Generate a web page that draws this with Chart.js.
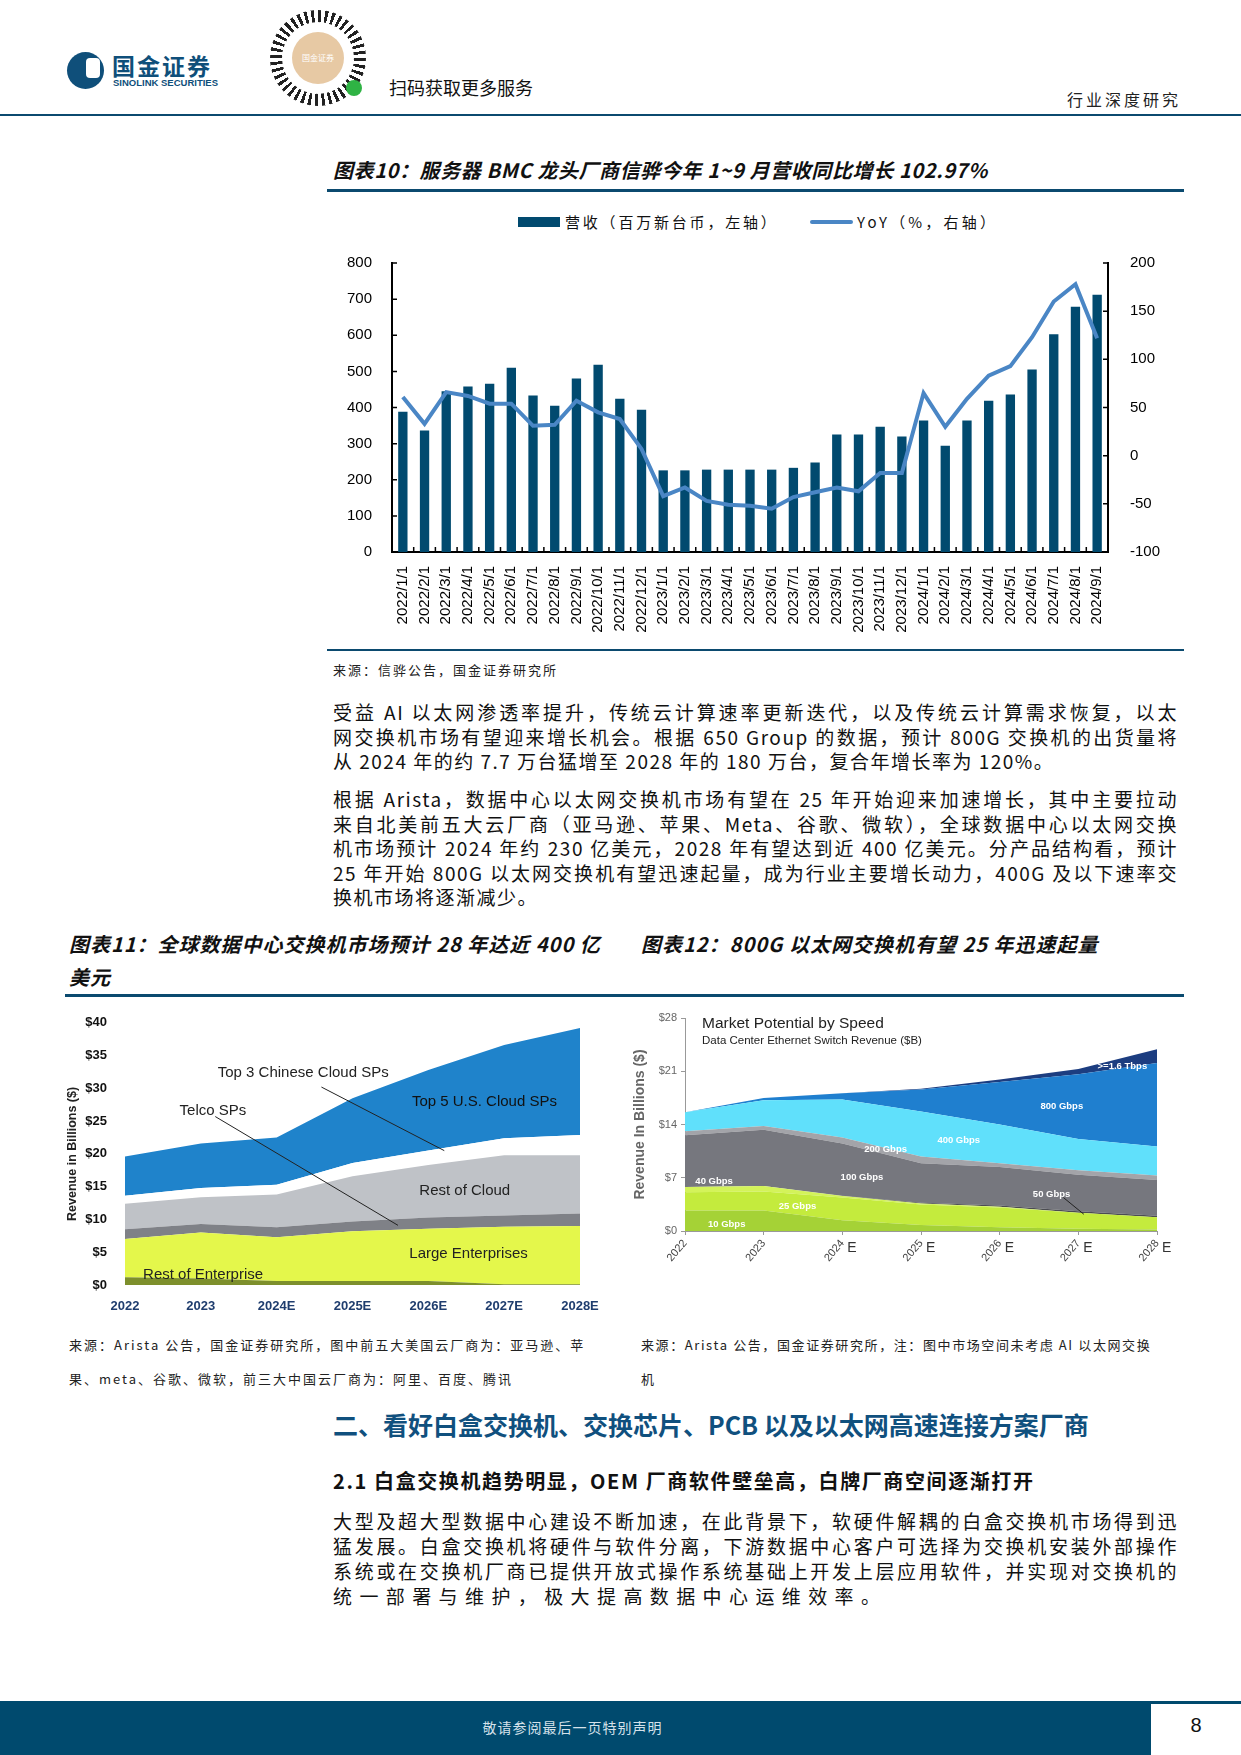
<!DOCTYPE html>
<html>
<head>
<meta charset="utf-8">
<script src="https://cdn.jsdelivr.net/npm/chart.js@4.4.1/dist/chart.umd.min.js"></script>
<style>
  body { margin: 0; background: #fff; font-family: "Noto Sans CJK SC", "Liberation Sans", sans-serif; }
  #page { position: relative; width: 1241px; height: 1755px; overflow: hidden; }
  .abs { position: absolute; }
  .rule { position: absolute; background: #0b4a6f; }
  .ftitle { position: absolute; font-weight: bold; font-style: italic; font-size: 20px; letter-spacing: 1px; color: #111; white-space: nowrap; }
  .src { position: absolute; font-size: 13px; letter-spacing: 2px; color: #222; white-space: nowrap; }
  .para div { height: 24.5px; line-height: 24.5px; font-size: 19px; letter-spacing: 1.5px; color: #111; text-align: justify; text-align-last: justify; white-space: nowrap; }
  .para div.last { text-align-last: left; }
  .anno { position: absolute; white-space: nowrap; }
</style>
</head>
<body>
<div id="page">
  <!-- header -->
  <div class="abs" style="left:67px;top:52px;width:37px;height:37px;border-radius:50%;background:#0f4f7a;"></div>
  <div class="abs" style="left:86px;top:58px;width:14px;height:20px;border-radius:4px;background:#fff;"></div>
  <div class="abs" style="left:112px;top:54px;font-size:23px;line-height:23px;font-weight:bold;color:#0f4f7a;letter-spacing:2px;">国金证券</div>
  <div class="abs" style="left:113px;top:78px;font-size:9.5px;line-height:10px;font-weight:bold;color:#0f4f7a;font-family:'Liberation Sans';">SINOLINK SECURITIES</div>
  <div class="abs" style="left:270px;top:10px;width:96px;height:96px;border-radius:50%;background:repeating-conic-gradient(#222 0deg 4deg, #fff 4deg 9deg);"></div>
  <div class="abs" style="left:282px;top:22px;width:72px;height:72px;border-radius:50%;background:#fff;"></div>
  <div class="abs" style="left:292px;top:32px;width:52px;height:52px;border-radius:50%;background:#e7c9a4;color:#fff;font-size:8px;text-align:center;line-height:52px;">国金证券</div>
  <div class="abs" style="left:346px;top:80px;width:16px;height:16px;border-radius:50%;background:#2fb344;"></div>
  <div class="abs" style="left:389px;top:74px;font-size:18px;color:#111;">扫码获取更多服务</div>
  <div class="abs" style="left:1067px;top:87px;font-size:16px;letter-spacing:3px;color:#222;">行业深度研究</div>
  <div class="rule" style="left:0;top:114px;width:1241px;height:2px;"></div>

  <!-- figure 10 -->
  <div class="ftitle" style="left:333px;top:155px;letter-spacing:0.6px;">图表10：服务器 BMC 龙头厂商信骅今年 1~9 月营收同比增长 102.97%</div>
  <div class="rule" style="left:327px;top:189px;width:857px;height:3px;"></div>
  <div class="abs" style="left:518px;top:217px;width:42px;height:10px;background:#014a6f;"></div>
  <div class="abs" style="left:565px;top:211px;font-size:15px;letter-spacing:2.8px;color:#111;">营收（百万新台币，左轴）</div>
  <div class="abs" style="left:810px;top:220px;width:43px;height:4px;border-radius:2px;background:#4a86c5;"></div>
  <div class="abs" style="left:857px;top:211px;font-size:15px;letter-spacing:3.2px;color:#111;">YoY（%，右轴）</div>
  <div class="abs" style="left:327px;top:240px;width:857px;height:400px;"><canvas id="c10"></canvas></div>
  <div class="rule" style="left:327px;top:649px;width:857px;height:2px;"></div>
  <div class="src" style="left:333px;top:660px;">来源：信骅公告，国金证券研究所</div>

  <!-- paragraphs -->
  <div class="para abs" style="left:333px;top:700px;width:845px;">
    <div>受益 AI 以太网渗透率提升，传统云计算速率更新迭代，以及传统云计算需求恢复，以太</div>
    <div>网交换机市场有望迎来增长机会。根据 650 Group 的数据，预计 800G 交换机的出货量将</div>
    <div class="last">从 2024 年的约 7.7 万台猛增至 2028 年的 180 万台，复合年增长率为 120%。</div>
  </div>
  <div class="para abs" style="left:333px;top:787px;width:845px;">
    <div>根据 Arista，数据中心以太网交换机市场有望在 25 年开始迎来加速增长，其中主要拉动</div>
    <div>来自北美前五大云厂商（亚马逊、苹果、Meta、谷歌、微软），全球数据中心以太网交换</div>
    <div>机市场预计 2024 年约 230 亿美元，2028 年有望达到近 400 亿美元。分产品结构看，预计</div>
    <div>25 年开始 800G 以太网交换机有望迅速起量，成为行业主要增长动力，400G 及以下速率交</div>
    <div class="last">换机市场将逐渐减少。</div>
  </div>

  <!-- figure 11 / 12 titles -->
  <div class="ftitle" style="left:69px;top:929px;">图表11：全球数据中心交换机市场预计 28 年达近 400 亿</div>
  <div class="ftitle" style="left:69px;top:962px;">美元</div>
  <div class="ftitle" style="left:641px;top:929px;">图表12：800G 以太网交换机有望 25 年迅速起量</div>
  <div class="rule" style="left:65px;top:994px;width:1119px;height:3px;"></div>

  <div class="abs" style="left:65px;top:1005px;width:545px;height:320px;"><canvas id="c11"></canvas></div>
  <div class="abs" style="left:630px;top:1000px;width:570px;height:290px;"><canvas id="c12"></canvas></div>
  <div class="anno" style="left:702px;top:1014px;font-family:'Liberation Sans';font-size:15.5px;color:#222;">Market Potential by Speed</div>
  <div class="anno" style="left:702px;top:1034px;font-family:'Liberation Sans';font-size:11.5px;color:#222;">Data Center Ethernet Switch Revenue ($B)</div>

  <div class="src" style="left:69px;top:1335px;">来源：Arista 公告，国金证券研究所，图中前五大美国云厂商为：亚马逊、苹</div>
  <div class="src" style="left:69px;top:1369px;">果、meta、谷歌、微软，前三大中国云厂商为：阿里、百度、腾讯</div>
  <div class="src" style="left:641px;top:1335px;letter-spacing:1.6px;">来源：Arista 公告，国金证券研究所，注：图中市场空间未考虑 AI 以太网交换</div>
  <div class="src" style="left:641px;top:1369px;">机</div>

  <!-- section -->
  <div class="abs" style="left:333px;top:1406px;font-size:25px;font-weight:bold;color:#10507e;white-space:nowrap;">二、看好白盒交换机、交换芯片、PCB 以及以太网高速连接方案厂商</div>
  <div class="abs" style="left:333px;top:1466px;font-size:20px;font-weight:bold;letter-spacing:1.6px;color:#111;white-space:nowrap;">2.1 白盒交换机趋势明显，OEM 厂商软件壁垒高，白牌厂商空间逐渐打开</div>
  <div class="para abs" style="left:333px;top:1508px;width:845px;">
    <div style="height:25px;line-height:25px;">大型及超大型数据中心建设不断加速，在此背景下，软硬件解耦的白盒交换机市场得到迅</div>
    <div style="height:25px;line-height:25px;">猛发展。白盒交换机将硬件与软件分离，下游数据中心客户可选择为交换机安装外部操作</div>
    <div style="height:25px;line-height:25px;">系统或在交换机厂商已提供开放式操作系统基础上开发上层应用软件，并实现对交换机的</div>
    <div class="last" style="height:25px;line-height:25px;letter-spacing:7.4px;">统一部署与维护，极大提高数据中心运维效率。</div>
  </div>

  <!-- footer -->
  <div class="abs" style="left:0;top:1701px;width:1241px;height:54px;background:#004a6e;"></div>
  <div class="abs" style="left:1151px;top:1704px;width:90px;height:51px;background:#fff;"></div>
  <div class="abs" style="left:0;top:1717px;width:1145px;text-align:center;font-size:14px;letter-spacing:1px;color:#d5e1ea;">敬请参阅最后一页特别声明</div>
  <div class="abs" style="left:1151px;top:1714px;width:90px;text-align:center;font-size:20px;color:#111;font-family:'Liberation Sans';">8</div>
</div>

<script>
// 图表10 data
var months = ["2022/1/1", "2022/2/1", "2022/3/1", "2022/4/1", "2022/5/1", "2022/6/1", "2022/7/1", "2022/8/1", "2022/9/1", "2022/10/1", "2022/11/1", "2022/12/1",
  "2023/1/1", "2023/2/1", "2023/3/1", "2023/4/1", "2023/5/1", "2023/6/1", "2023/7/1", "2023/8/1", "2023/9/1", "2023/10/1", "2023/11/1", "2023/12/1",
  "2024/1/1", "2024/2/1", "2024/3/1", "2024/4/1", "2024/5/1", "2024/6/1", "2024/7/1", "2024/8/1", "2024/9/1"];
var revenue = [388, 336, 445, 458, 466, 510, 433, 405, 480, 518, 424, 394,
  226, 226, 228, 228, 228, 228, 233, 248, 325, 325, 347, 320,
  364, 294, 364, 419, 436, 505, 603, 679, 712];
var yoy = [61, 33, 66, 62, 54, 54, 31, 32, 57, 45, 38, 7,
  -42, -33, -47, -51, -52, -55, -43, -38, -33, -37, -18, -18,
  65, 30, 59, 83, 93, 123, 160, 178, 122];

// 图表11 data ($B, thickness of each layer)
var years11 = ["2022", "2023", "2024E", "2025E", "2026E", "2027E", "2028E"];
var restEnterprise = [1.2, 1.0, 0.6, 0.6, 0.6, 0.1, 0.1];
var largeEnterprise = [5.8, 7.0, 6.7, 7.6, 8.0, 8.8, 8.9];
var telcoSPs = [1.5, 1.3, 1.5, 1.5, 1.7, 1.7, 1.9];
var restCloud = [3.9, 4.1, 5.0, 6.9, 8.0, 9.2, 8.9];
var chinaCloud = [1.2, 1.4, 1.5, 2.0, 2.2, 2.6, 3.1];
var usCloud = [6.0, 6.8, 7.2, 9.9, 12.3, 14.2, 16.3];

// 图表12 data ($B, thickness of each layer)
var years12 = ["2022", "2023", "2024", "2025", "2026", "2027", "2028"];
var g10 = [2.7, 2.7, 1.4, 0.8, 0.5, 0.3, 0.2];
var g25 = [2.4, 2.5, 3.0, 2.7, 2.6, 2.1, 1.6];
var g40 = [0.7, 0.7, 0.2, 0.1, 0.1, 0.0, 0.0];
var g50 = [0.0, 0.0, 0.05, 0.1, 0.15, 0.2, 0.2];
var g100 = [6.8, 7.4, 6.85, 5.2, 5.05, 4.8, 4.7];
var g200 = [0.5, 0.5, 0.8, 0.9, 0.5, 0.6, 0.6];
var g400 = [2.5, 3.4, 5.0, 5.9, 5.1, 4.1, 3.8];
var g800 = [0.0, 0.3, 0.8, 2.9, 5.6, 8.5, 11.0];
var g1600 = [0.0, 0.0, 0.0, 0.1, 0.3, 0.7, 1.8];

Chart.defaults.font.family = "'Liberation Sans', Arial, sans-serif";
Chart.defaults.animation = false;

// ticks pointing into the plot, like the original
var innerTicks = {
  id: "innerTicks",
  afterDatasetsDraw: function (chart) {
    var ctx = chart.ctx, x = chart.scales.x, y = chart.scales.y, y1 = chart.scales.y1;
    ctx.save();
    ctx.strokeStyle = "#000";
    ctx.lineWidth = 1.5;
    ctx.beginPath();
    y.ticks.forEach(function (t) {
      var py = y.getPixelForValue(t.value);
      ctx.moveTo(x.left, py); ctx.lineTo(x.left + 5, py);
    });
    y1.ticks.forEach(function (t) {
      var py = y1.getPixelForValue(t.value);
      ctx.moveTo(x.right, py); ctx.lineTo(x.right - 5, py);
    });
    for (var i = 0; i <= months.length; i++) {
      var px = x.left + i * x.width / months.length;
      ctx.moveTo(px, y.bottom); ctx.lineTo(px, y.bottom - 5);
    }
    ctx.stroke();
    ctx.restore();
  }
};

new Chart("c10", {
  data: {
    labels: months,
    datasets: [{
      type: "line",
      label: "YoY（%，右轴）",
      data: yoy,
      yAxisID: "y1",
      borderColor: "#4a86c5",
      borderWidth: 4,
      pointRadius: 0,
      tension: 0,
      order: 0
    }, {
      type: "bar",
      label: "营收（百万新台币，左轴）",
      data: revenue,
      yAxisID: "y",
      backgroundColor: "#014a6f",
      barPercentage: 0.43,
      categoryPercentage: 1,
      order: 1
    }]
  },
  options: {
    responsive: true,
    maintainAspectRatio: false,
    layout: {padding: {top: 22}},
    plugins: {legend: {display: false}, tooltip: {enabled: false}},
    scales: {
      x: {
        grid: {display: false},
        border: {color: "#000", width: 2},
        ticks: {color: "#000", font: {size: 15}, maxRotation: 90, minRotation: 90, autoSkip: false, padding: 6},
        afterFit: function (s) { s.height = 88; }
      },
      y: {
        position: "left",
        min: 0, max: 800,
        grid: {display: false},
        border: {color: "#000", width: 2},
        ticks: {stepSize: 100, color: "#000", font: {size: 15}, padding: 12},
        afterFit: function (s) { s.width = 65; }
      },
      y1: {
        position: "right",
        min: -100, max: 200,
        grid: {display: false},
        border: {color: "#000", width: 2},
        ticks: {stepSize: 50, color: "#000", font: {size: 15}, padding: 14},
        afterFit: function (s) { s.width = 76; }
      }
    }
  },
  plugins: [innerTicks]
});

// text labels placed at data positions
function annotate(list) {
  return {
    id: "annotate",
    afterDatasetsDraw: function (chart) {
      var ctx = chart.ctx, x = chart.scales.x, y = chart.scales.y;
      ctx.save();
      list.forEach(function (a) {
        if (a.line) {
          ctx.strokeStyle = a.lineColor || "#222";
          ctx.lineWidth = 1;
          ctx.beginPath();
          ctx.moveTo(x.getPixelForValue(a.line[0]), y.getPixelForValue(a.line[1]));
          ctx.lineTo(x.getPixelForValue(a.line[2]), y.getPixelForValue(a.line[3]));
          ctx.stroke();
        }
        if (a.text) {
          ctx.font = a.font;
          ctx.fillStyle = a.color;
          ctx.textAlign = "center";
          ctx.textBaseline = "middle";
          ctx.fillText(a.text, x.getPixelForValue(a.at[0]), y.getPixelForValue(a.at[1]));
        }
      });
      ctx.restore();
    }
  };
}

function layer(label, data, color, first) {
  return {label: label, data: data, backgroundColor: color, borderWidth: 0, pointRadius: 0,
    fill: first ? "origin" : "-1", tension: 0};
}

var f11 = "15px 'Liberation Sans'";
new Chart("c11", {
  type: "line",
  data: {
    labels: years11,
    datasets: [
      layer("Rest of Enterprise", restEnterprise, "#7d8f2c", true),
      layer("Large Enterprises", largeEnterprise, "#e4f74b"),
      layer("Telco SPs", telcoSPs, "#7f8187"),
      layer("Rest of Cloud", restCloud, "#bfc2c7"),
      layer("Top 3 Chinese Cloud SPs", chinaCloud, "#ffffff"),
      layer("Top 5 U.S. Cloud SPs", usCloud, "#1f83cb")
    ]
  },
  options: {
    responsive: true,
    maintainAspectRatio: false,
    layout: {padding: {top: 17, right: 30}},
    plugins: {legend: {display: false}, tooltip: {enabled: false}},
    scales: {
      x: {
        offset: false,
        grid: {display: false},
        border: {display: false},
        ticks: {color: "#1f3d6e", font: {size: 13, weight: "bold"}, padding: 6, maxRotation: 0},
        afterFit: function (s) { s.height = 40; }
      },
      y: {
        stacked: true,
        min: 0, max: 40,
        grid: {display: false},
        border: {display: false},
        title: {display: true, text: "Revenue in Billions ($)", color: "#222", font: {size: 12.5, weight: "bold"}, padding: 0},
        ticks: {stepSize: 5, color: "#111", font: {size: 13, weight: "bold"}, padding: 10, callback: function (v) { return "$" + v; }},
        afterFit: function (s) { s.width = 60; }
      }
    }
  },
  plugins: [annotate([
    {line: [2.59, 30.2, 4.21, 20.5]},
    {line: [1.19, 25.7, 3.6, 9.1]},
    {text: "Top 3 Chinese Cloud SPs", at: [2.35, 32.3], font: f11, color: "#222"},
    {text: "Telco SPs", at: [1.16, 26.6], font: f11, color: "#222"},
    {text: "Top 5 U.S. Cloud SPs", at: [4.74, 28.0], font: f11, color: "#111"},
    {text: "Rest of Cloud", at: [4.48, 14.4], font: f11, color: "#222"},
    {text: "Large Enterprises", at: [4.53, 4.7], font: f11, color: "#222"},
    {text: "Rest of Enterprise", at: [1.03, 1.5], font: f11, color: "#222"}
  ])]
});

var f12 = "bold 9.5px 'Liberation Sans'";
var forecastE = {
  id: "forecastE",
  afterDraw: function (chart) {
    var ctx = chart.ctx, x = chart.scales.x, y = chart.scales.y;
    ctx.save();
    ctx.font = "14px 'Liberation Sans'";
    ctx.fillStyle = "#333";
    ctx.textAlign = "left";
    ctx.textBaseline = "middle";
    for (var i = 2; i < years12.length; i++) {
      ctx.fillText("E", x.getPixelForValue(i) + 5, y.bottom + 17);
    }
    ctx.restore();
  }
};

new Chart("c12", {
  type: "line",
  data: {
    labels: years12,
    datasets: [
      layer("10 Gbps", g10, "#a5d236", true),
      layer("25 Gbps", g25, "#c4eb3d"),
      layer("40 Gbps", g40, "#d3f35a"),
      layer("50 Gbps", g50, "#4b4c52"),
      layer("100 Gbps", g100, "#76777e"),
      layer("200 Gbps", g200, "#a3a4a9"),
      layer("400 Gbps", g400, "#60e0fb"),
      layer("800 Gbps", g800, "#1f7fcf"),
      layer(">=1.6 Tbps", g1600, "#1c3d80")
    ]
  },
  options: {
    responsive: true,
    maintainAspectRatio: false,
    layout: {padding: {top: 18, right: 43}},
    plugins: {legend: {display: false}, tooltip: {enabled: false}},
    scales: {
      x: {
        offset: false,
        grid: {display: true, drawOnChartArea: false, color: "#999", tickLength: 4},
        border: {color: "#999"},
        ticks: {color: "#444", font: {size: 11, family: "'Liberation Sans Narrow', 'Liberation Sans'"}, minRotation: 50, maxRotation: 50, padding: 2},
        afterFit: function (s) { s.height = 59; }
      },
      y: {
        stacked: true,
        min: 0, max: 28,
        grid: {display: true, drawOnChartArea: false, color: "#999", tickLength: 4},
        border: {color: "#999"},
        title: {display: true, text: "Revenue In Billions ($)", color: "#666", font: {size: 14, weight: "bold"}, padding: 2},
        ticks: {stepSize: 7, color: "#666", font: {size: 11, family: "'Liberation Sans Narrow', 'Liberation Sans'"}, padding: 4, callback: function (v) { return "$" + v; }},
        afterFit: function (s) { s.width = 55; }
      }
    }
  },
  plugins: [forecastE, annotate([
    {line: [4.81, 4.4, 5.07, 2.2]},
    {text: "10 Gbps", at: [0.53, 0.9], font: f12, color: "#fff"},
    {text: "25 Gbps", at: [1.43, 3.2], font: f12, color: "#fff"},
    {text: "40 Gbps", at: [0.37, 6.5], font: f12, color: "#fff"},
    {text: "100 Gbps", at: [2.25, 7.1], font: f12, color: "#fff"},
    {text: "200 Gbps", at: [2.55, 10.7], font: f12, color: "#fff"},
    {text: "400 Gbps", at: [3.48, 11.9], font: f12, color: "#fff"},
    {text: "800 Gbps", at: [4.79, 16.4], font: f12, color: "#fff"},
    {text: ">=1.6 Tbps", at: [5.56, 21.7], font: f12, color: "#fff"},
    {text: "50 Gbps", at: [4.66, 4.8], font: f12, color: "#fff"}
  ])]
});
</script>
</body>
</html>
